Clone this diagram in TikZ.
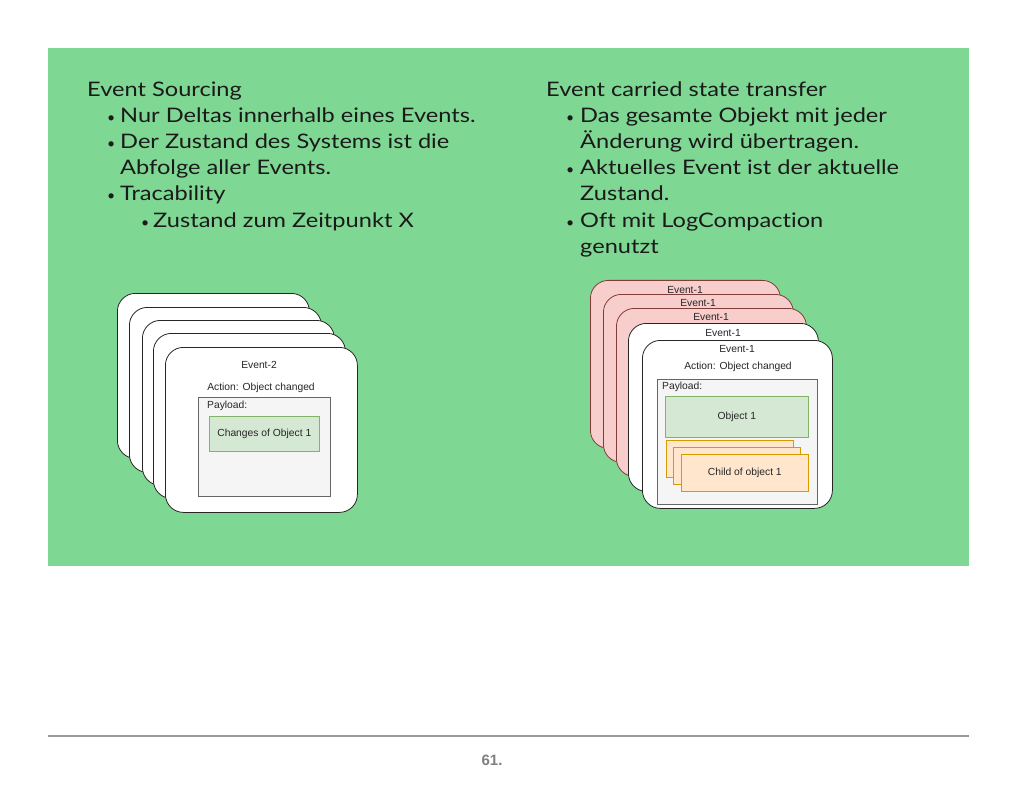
\documentclass[tikz,border=0pt]{standalone}
\usepackage{fontspec}
\setmainfont{Lato}
\newfontfamily\slidefont[FakeStretch=1.18,Ligatures=NoCommon]{Lato}
\newfontfamily\cardfont{Liberation Sans}
\definecolor{panel}{HTML}{7FD794}
\definecolor{pinkfill}{HTML}{F8CECC}
\definecolor{pinkdraw}{HTML}{B85450}
\definecolor{greenfill}{HTML}{D5E8D4}
\definecolor{greendraw}{HTML}{82B366}
\definecolor{orangefill}{HTML}{FFE6CC}
\definecolor{orangedraw}{HTML}{D79B00}
\definecolor{payfill}{HTML}{F5F5F5}
\definecolor{paydraw}{HTML}{666666}
\definecolor{txt}{HTML}{1A1A1A}
\tikzset{
  main/.style={anchor=base west, inner sep=0pt, text=txt, font=\slidefont\fontsize{20}{24}\selectfont},
  bul/.style={anchor=base west, inner sep=0pt, text=txt, font=\fontsize{14}{16}\selectfont},
  card/.style={draw=black!85, fill=white, rounded corners=18pt, line width=0.8pt, anchor=north west, inner sep=0pt},
  pcard/.style={card, fill=pinkfill, draw=pinkdraw!70!black},
  lbl/.style={inner sep=0pt, text=black!85, font=\cardfont\fontsize{10.3}{12}\selectfont},
  payload/.style={draw=paydraw, fill=payfill, line width=0.6pt, anchor=north west, inner sep=0pt},
  gbox/.style={draw=greendraw, fill=greenfill, line width=0.6pt, anchor=north west, inner sep=0pt},
  obox/.style={draw=orangedraw, fill=orangefill, line width=0.6pt, anchor=north west, inner sep=0pt}
}
\begin{document}
\begin{tikzpicture}[x=1pt,y=-1pt]
\useasboundingbox (0,0) rectangle (1024,791);
\fill[white] (0,0) rectangle (1024,791);
\fill[panel] (48,48) rectangle (969,566);

% left text
\node[main] (ls) at (87,97) {Event Sourcing};
\node[bul] (lb1) at (107,123) {•};
\node[main] (l1) at (120,123) {Nur Deltas innerhalb eines Events.};
\node[bul] (lb2) at (107,149) {•};
\node[main] (l2) at (120,149) {Der Zustand des Systems ist die};
\node[main] (l2b) at (120,175) {Abfolge aller Events.};
\node[bul] (lb3) at (107,201) {•};
\node[main] (l3) at (120,201) {Tracability};
\node[bul] (lb4) at (141,228) {•};
\node[main] (l4) at (153,228) {Zustand zum Zeitpunkt X};

% right text
\node[main] (rs) at (546,97) {Event carried state transfer};
\node[bul] (rb1) at (566,123) {•};
\node[main] (r1) at (580,123) {Das gesamte Objekt mit jeder};
\node[main] (r1b) at (580,149) {Änderung wird übertragen.};
\node[bul] (rb2) at (566,175) {•};
\node[main] (r2) at (580,175) {Aktuelles Event ist der aktuelle};
\node[main] (r2b) at (580,201) {Zustand.};
\node[bul] (rb3) at (566,228) {•};
\node[main] (r3) at (580,228) {Oft mit LogCompaction};
\node[main] (r3b) at (580,254) {genutzt};

% left stack
\node[card, minimum width=192pt, minimum height=165pt] (lc1) at (117,293) {};
\node[card, minimum width=192pt, minimum height=165pt] (lc2) at (129,307) {};
\node[card, minimum width=192pt, minimum height=165pt] (lc3) at (142,320) {};
\node[card, minimum width=192pt, minimum height=165pt] (lc4) at (153,333) {};
\node[card, minimum width=192pt, minimum height=165pt] (lc5) at (165,347) {};
\node[lbl] (le) at (259,365) {Event-2};
\node[lbl] (la) at (261,388) {Action: Object changed};
\node[payload, minimum width=132pt, minimum height=99pt] (lp) at (198,397) {};
\node[lbl, anchor=north west] (lpl) at (207,401) {Payload:};
\node[gbox, minimum width=110pt, minimum height=35pt] (lg) at (209,416) {};
\node[lbl] (lgt) at (lg.center) {Changes of Object 1};

% right stack
\node[pcard, minimum width=190pt, minimum height=168pt] (rc1) at (590,280) {};
\node[lbl] (re1) at (685,290) {Event-1};
\node[pcard, minimum width=190pt, minimum height=168pt] (rc2) at (603,294) {};
\node[lbl] (re2) at (698,303) {Event-1};
\node[pcard, minimum width=190pt, minimum height=168pt] (rc3) at (616,308) {};
\node[lbl] (re3) at (711,317) {Event-1};
\node[card, minimum width=190pt, minimum height=168pt] (rc4) at (628,323) {};
\node[lbl] (re4) at (723,333) {Event-1};
\node[card, minimum width=190pt, minimum height=168pt] (rc5) at (642,340) {};
\node[lbl] (re5) at (737,349) {Event-1};
\node[lbl] (ra) at (738,367) {Action: Object changed};
\node[payload, minimum width=160pt, minimum height=125pt] (rp) at (657,379) {};
\node[lbl, anchor=north west] (rpl) at (662,382) {Payload:};
\node[gbox, minimum width=143pt, minimum height=41pt] (rg) at (665,396) {};
\node[lbl] (rgt) at (rg.center) {Object 1};
\node[obox, minimum width=127pt, minimum height=37pt] (ro1) at (666,440) {};
\node[obox, minimum width=127pt, minimum height=37pt] (ro2) at (673,447) {};
\node[obox, minimum width=127pt, minimum height=37pt] (ro3) at (681,454) {};
\node[lbl] (rot) at (ro3.center) {Child of object 1};

% footer
\draw[black!40, line width=1.5pt] (48,736) -- (969,736);
\node[inner sep=0pt, text=black!50, font=\cardfont\bfseries\fontsize{15}{17}\selectfont] (pn) at (492,760) {61.};
\end{tikzpicture}
\end{document}
